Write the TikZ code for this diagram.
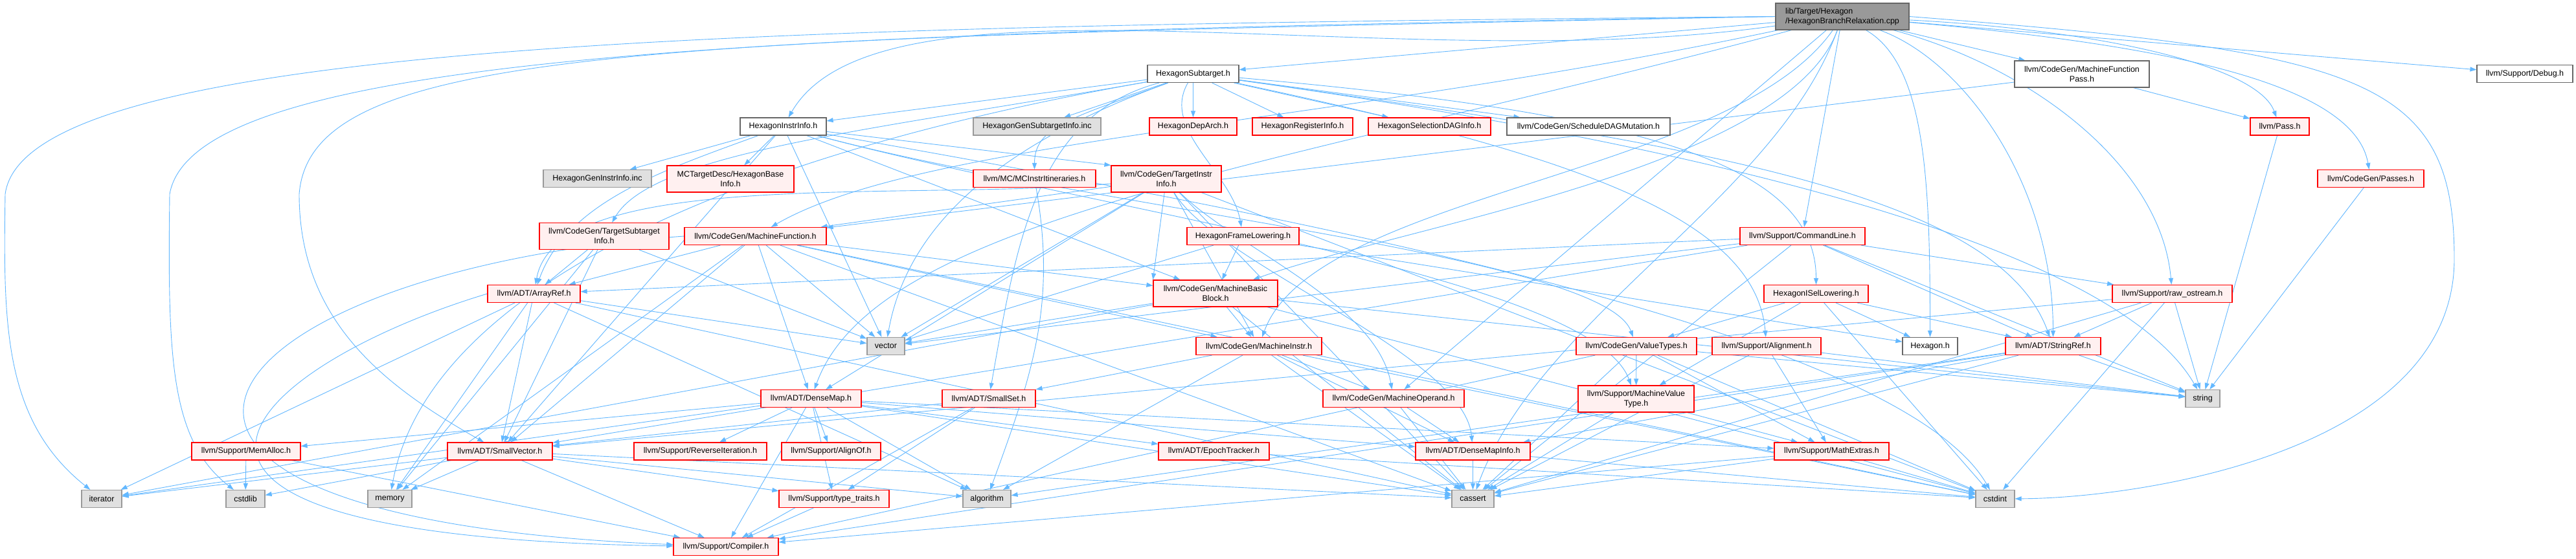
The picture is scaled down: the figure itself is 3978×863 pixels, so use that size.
\documentclass[tikz,border=0pt]{standalone}
\usepackage{fontspec}
\setmainfont{Liberation Sans}
\usepackage{tikz}
\usetikzlibrary{arrows.meta, positioning, backgrounds}
\definecolor{doxyedge}{HTML}{63B8FF}
\definecolor{doxyred}{HTML}{FF0000}
\definecolor{doxypink}{HTML}{FFF0F0}
\definecolor{doxygrey}{HTML}{E0E0E0}
\definecolor{doxymid}{HTML}{999999}
\definecolor{doxydark}{HTML}{666666}

\begin{document}
\begin{tikzpicture}[
        x=1pt, y=-1pt,
        doxbox/.style={draw, minimum height=27pt, inner xsep=4pt, inner ysep=2pt, align=center, font=\fontsize{12.5}{15}\selectfont, line width=1.2pt},
        redbox/.style={doxbox, draw=doxyred, fill=doxypink},
        plainbox/.style={doxbox, draw=doxydark, fill=white},
        sysbox/.style={doxbox, draw=doxymid, fill=doxygrey},
        rootbox/.style={doxbox, draw=doxydark, fill=doxymid, align=left},
        twoline/.style={minimum height=41pt},
        line/.style={-{Triangle[length=10pt, width=7pt]}, doxyedge, line width=0.9pt}
    ]
        \useasboundingbox (0,0) rectangle (3978,863);

        % top rows
        \node (main) [rootbox, twoline, minimum width=206pt] at (2845,25.5) {lib/Target/Hexagon\\/HexagonBranchRelaxation.cpp};
        \node (hsub) [plainbox, minimum width=141pt] at (1842.5,114) {HexagonSubtarget.h};
        \node (mfp) [plainbox, twoline, minimum width=208pt] at (3215,114.5) {llvm/CodeGen/MachineFunction\\Pass.h};
        \node (dbg) [plainbox, minimum width=148pt] at (3899,114) {llvm/Support/Debug.h};
        \node (hii) [plainbox, minimum width=133pt] at (1209.5,195.5) {HexagonInstrInfo.h};
        \node (hgsi) [sysbox, minimum width=197pt] at (1601.5,195.5) {HexagonGenSubtargetInfo.inc};
        \node (hda) [redbox, minimum width=135pt] at (1842.5,195.5) {HexagonDepArch.h};
        \node (hri) [redbox, minimum width=155pt] at (2011.5,195.5) {HexagonRegisterInfo.h};
        \node (hsdi) [redbox, minimum width=189pt] at (2207.5,195.5) {HexagonSelectionDAGInfo.h};
        \node (sdm) [plainbox, minimum width=252pt] at (2453,195.5) {llvm/CodeGen/ScheduleDAGMutation.h};
        \node (pass) [redbox, minimum width=91pt] at (3520.5,195.5) {llvm/Pass.h};
        \node (hgii) [sysbox, minimum width=167pt] at (922.5,276) {HexagonGenInstrInfo.inc};
        \node (hbi) [redbox, twoline, minimum width=196pt] at (1128,276.5) {MCTargetDesc/HexagonBase\\Info.h};
        \node (mcii) [redbox, minimum width=189pt] at (1597.5,276) {llvm/MC/MCInstrItineraries.h};
        \node (tii) [redbox, twoline, minimum width=170pt] at (1801,276.5) {llvm/CodeGen/TargetInstr\\Info.h};
        \node (passes) [redbox, minimum width=164pt] at (3661,276) {llvm/CodeGen/Passes.h};
        \node (tsi) [redbox, twoline, minimum width=200pt] at (933,365) {llvm/CodeGen/TargetSubtarget\\Info.h};
        \node (mf) [redbox, minimum width=219pt] at (1166.5,365) {llvm/CodeGen/MachineFunction.h};
        \node (hfl) [redbox, minimum width=173pt] at (1919.5,365) {HexagonFrameLowering.h};
        \node (cl) [redbox, minimum width=193pt] at (2783.5,365) {llvm/Support/CommandLine.h};

        % middle rows
        \node (ar) [redbox, minimum width=143pt] at (824.5,454) {llvm/ADT/ArrayRef.h};
        \node (mbb) [redbox, twoline, minimum width=192pt] at (1877,453.5) {llvm/CodeGen/MachineBasic\\Block.h};
        \node (hisl) [redbox, minimum width=161pt] at (2804.5,454) {HexagonISelLowering.h};
        \node (ros) [redbox, minimum width=185pt] at (3354.5,454) {llvm/Support/raw\_ostream.h};
        \node (vec) [sysbox, minimum width=58pt] at (1368,535) {vector};
        \node (mi) [redbox, minimum width=194pt] at (1944,535) {llvm/CodeGen/MachineInstr.h};
        \node (vt) [redbox, minimum width=186pt] at (2527,535) {llvm/CodeGen/ValueTypes.h};
        \node (al) [redbox, minimum width=168pt] at (2728,535) {llvm/Support/Alignment.h};
        \node (hex) [plainbox, minimum width=85pt] at (2980.5,535) {Hexagon.h};
        \node (sr) [redbox, minimum width=147pt] at (3170.5,535) {llvm/ADT/StringRef.h};
        \node (dm) [redbox, minimum width=155pt] at (1252.5,616) {llvm/ADT/DenseMap.h};
        \node (ss) [redbox, minimum width=144pt] at (1527,616) {llvm/ADT/SmallSet.h};
        \node (mo) [redbox, minimum width=218pt] at (2152,616) {llvm/CodeGen/MachineOperand.h};
        \node (mvt) [redbox, twoline, minimum width=179pt] at (2526.5,616.5) {llvm/Support/MachineValue\\Type.h};
        \node (str) [sysbox, minimum width=53pt] at (3401.5,616) {string};

        % bottom rows
        \node (ma) [redbox, minimum width=168pt] at (380,697.5) {llvm/Support/MemAlloc.h};
        \node (sv) [redbox, minimum width=162pt] at (772,697.5) {llvm/ADT/SmallVector.h};
        \node (ri) [redbox, minimum width=205pt] at (1081.5,697.5) {llvm/Support/ReverseIteration.h};
        \node (ao) [redbox, minimum width=153pt] at (1283.5,697.5) {llvm/Support/AlignOf.h};
        \node (et) [redbox, minimum width=171pt] at (1874.5,697.5) {llvm/ADT/EpochTracker.h};
        \node (dmi) [redbox, minimum width=177pt] at (2274.5,697.5) {llvm/ADT/DenseMapInfo.h};
        \node (me) [redbox, minimum width=177pt] at (2828.5,697.5) {llvm/Support/MathExtras.h};
        \node (it) [sysbox, minimum width=62pt] at (157,771) {iterator};
        \node (cstdlib) [sysbox, minimum width=60pt] at (379,771) {cstdlib};
        \node (memory) [sysbox, minimum width=68pt] at (602,771) {memory};
        \node (tt) [redbox, minimum width=170pt] at (1288,771) {llvm/Support/type\_traits.h};
        \node (alg) [sysbox, minimum width=74pt] at (1524,771) {algorithm};
        \node (cassert) [sysbox, minimum width=65pt] at (2274.5,771) {cassert};
        \node (cstdint) [sysbox, minimum width=60pt] at (3081,771) {cstdint};
        \node (comp) [redbox, minimum width=162pt] at (1121,845) {llvm/Support/Compiler.h};

        \begin{scope}[on background layer]
        \fill [white] (0,0) rectangle (3978,863);

        % includes of the .cpp file
        \draw [line] (main) -- (hsub);
        \draw [line] (main) .. controls +(188:700pt) and +(60:300pt) .. (hii);
        \draw [line] (main.west) .. controls (1200,40) and (40,60) .. (8,300) .. controls (5,500) and (5,650) .. (it);
        \draw [line] (main.west) .. controls (1200,50) and (300,80) .. (262,300) .. controls (259,550) and (262,680) .. (cstdlib);
        \draw [line] (main.west) .. controls (1000,60) and (480,70) .. (462,300) .. controls (462,500) and (600,600) .. (sv);
        \draw [line] (main) .. controls +(195:900pt) and +(70:300pt) .. (dm);
        \draw [line] (main) .. controls +(250:250pt) and +(20:300pt) .. (mbb);
        \draw [line] (main) .. controls +(192:800pt) and +(30:300pt) .. (mf);
        \draw [line] (main) -- (mfp);
        \draw [line] (main) .. controls +(235:300pt) and +(70:250pt) .. (mi);
        \draw [line] (main) -- (mo);
        \draw [line] (main) .. controls +(-5:500pt) and +(100:150pt) .. (passes);
        \draw [line] (main) .. controls +(-3:400pt) and +(110:100pt) .. (pass);
        \draw [line] (main) -- (cl);
        \draw [line] (main) -- (dbg);
        \draw [line] (main) .. controls +(-15:300pt) and +(95:200pt) .. (ros);
        \draw [line] (main) .. controls +(-20:200pt) and +(90:250pt) .. (sr);
        \draw [line] (main) .. controls +(-30:150pt) and +(90:250pt) .. (hex);
        \draw [line] (main) .. controls +(250:300pt) and +(70:300pt) .. (cassert);
        \draw [line] (main.east) .. controls (3650,80) and (3790,120) .. (3790,400) .. controls (3790,700) and (3300,770) .. (cstdint);

        % HexagonSubtarget.h
        \draw [line] (hsub) -- (hda);
        \draw [line] (hsub) -- (hgsi);
        \draw [line] (hsub) -- (hri);
        \draw [line] (hsub) -- (hsdi);
        \draw [line] (hsub) -- (sdm);
        \draw [line] (hsub) -- (hii);
        \draw [line] (hsub) .. controls +(240:100pt) and +(100:100pt) .. (hfl);
        \draw [line] (hsub) .. controls +(-5:700pt) and +(90:200pt) .. (hisl);
        \draw [line] (hsub) .. controls +(195:250pt) and +(80:250pt) .. (ss);
        \draw [line] (hsub) .. controls +(-8:800pt) and +(110:250pt) .. (sr);
        \draw [line] (hsub) .. controls +(190:500pt) and +(60:150pt) .. (tsi);
        \draw [line] (hsub) .. controls +(200:200pt) and +(90:80pt) .. (mcii);
        \draw [line] (hsub) .. controls +(-12:600pt) and +(95:200pt) .. (al);
        \draw [line] (hsub) .. controls +(190:800pt) and +(80:300pt) .. (memory);
        \draw [line] (hsub) .. controls +(-8:900pt) and +(120:250pt) .. (str);
        \draw [line] (hsub) .. controls +(200:300pt) and +(80:200pt) .. (vec);

        % HexagonInstrInfo.h
        \draw [line] (hii) -- (hbi);
        \draw [line] (hii) -- (hgii);
        \draw [line] (hii) .. controls +(200:200pt) and +(70:150pt) .. (ar);
        \draw [line] (hii) -- (sv);
        \draw [line] (hii) -- (mbb);
        \draw [line] (hii) .. controls +(-15:500pt) and +(110:200pt) .. (mvt);
        \draw [line] (hii) -- (tii.north west);
        \draw [line] (hii) .. controls +(-15:500pt) and +(110:150pt) .. (vt);
        \draw [line] (hii) .. controls +(-10:800pt) and +(120:300pt) .. (cstdint);
        \draw [line] (hii) -- (vec);

        % other Hexagon headers
        \draw [line] (mfp) -- (mf);
        \draw [line] (mfp) -- (pass);
        \draw [line] (pass) -- (str);
        \draw [line] (passes) -- (str);
        \draw [line] (hfl) -- (hex);
        \draw [line] (hfl) -- (mbb);
        \draw [line] (hfl) -- (vec);
        \draw [line] (hisl) -- (hex);
        \draw [line] (hisl) -- (sr);
        \draw [line] (hisl) -- (vt);
        \draw [line] (hisl) -- (mvt);
        \draw [line] (hisl) -- (cstdint);
        \draw [line] (tsi) -- (ar);
        \draw [line] (tsi) -- (sv);
        \draw [line] (tsi) -- (memory);
        \draw [line] (tsi) -- (vec);
        \draw [line] (mcii) .. controls +(-80:200pt) and +(70:200pt) .. (alg);

        % CodeGen headers
        \draw [line] (tii) .. controls +(185:400pt) and +(80:200pt) .. (ar);
        \draw [line] (tii) -- (dm);
        \draw [line] (tii) .. controls +(-60:150pt) and +(95:150pt) .. (dmi);
        \draw [line] (tii) -- (mbb.north west);
        \draw [line] (tii) -- (mf);
        \draw [line] (tii) -- (mi);
        \draw [line] (tii) .. controls +(-45:150pt) and +(100:150pt) .. (mo);
        \draw [line] (tii) -- (cassert);
        \draw [line] (tii) -- (cstdint);
        \draw [line] (tii) -- (vec);
        \draw [line] (mf) -- (ar);
        \draw [line] (mf) -- (dm);
        \draw [line] (mf) -- (sv);
        \draw [line] (mf) -- (mbb);
        \draw [line] (mf) -- (mi);
        \draw [line] (mf.west) .. controls (300,420) and (20,800) .. (comp);
        \draw [line] (mf) -- (cassert);
        \draw [line] (mf) -- (cstdint);
        \draw [line] (mf) -- (memory);
        \draw [line] (mf) -- (vec);
        \draw [line] (mbb) -- (mi);
        \draw [line] (mbb) -- (cassert);
        \draw [line] (mbb) -- (cstdint);
        \draw [line] (mbb) -- (it);
        \draw [line] (mbb) -- (str);
        \draw [line] (mbb) -- (vec);
        \draw [line] (mi) -- (dmi);
        \draw [line] (mi) -- (ss);
        \draw [line] (mi) -- (mo);
        \draw [line] (mi) -- (alg);
        \draw [line] (mi) -- (cassert);
        \draw [line] (mi) -- (cstdint);
        \draw [line] (mo) -- (dmi);
        \draw [line] (mo) -- (cassert);
        \draw [line] (vt) -- (mvt);
        \draw [line] (vt) -- (me);
        \draw [line] (vt) -- (comp);
        \draw [line] (vt) -- (cassert);
        \draw [line] (vt) -- (cstdint);
        \draw [line] (vt) -- (str);

        % Support headers
        \draw [line] (cl) -- (ar);
        \draw [line] (cl) -- (sv);
        \draw [line] (cl) -- (sr);
        \draw [line] (cl) -- (ros);
        \draw [line] (cl) -- (cassert);
        \draw [line] (cl) -- (str);
        \draw [line] (cl) -- (vec);
        \draw [line] (ros) -- (sv);
        \draw [line] (ros) -- (sr);
        \draw [line] (ros) -- (cassert);
        \draw [line] (ros) -- (cstdint);
        \draw [line] (ros) -- (str);
        \draw [line] (al) -- (me);
        \draw [line] (al) -- (cassert);
        \draw [line] (al) -- (str);
        \draw [line] (mvt) -- (me);
        \draw [line] (mvt) -- (cassert);
        \draw [line] (me) -- (comp);
        \draw [line] (me) -- (cassert);
        \draw [line] (me) -- (cstdint);
        \draw [line] (ma) -- (comp);
        \draw [line] (ma) -- (cstdlib);
        \draw [line] (tt) -- (comp);

        % ADT headers
        \draw [line] (ar.west) .. controls (400,560) and (60,830) .. (comp);
        \draw [line] (ar) -- (sv);
        \draw [line] (ar) -- (alg);
        \draw [line] (ar) -- (cassert);
        \draw [line] (ar) -- (it);
        \draw [line] (ar) -- (memory);
        \draw [line] (ar) -- (vec);
        \draw [line] (sr) -- (dmi);
        \draw [line] (sr) -- (comp);
        \draw [line] (sr) -- (alg);
        \draw [line] (sr) -- (cassert);
        \draw [line] (sr) -- (str);
        \draw [line] (dm) -- (dmi);
        \draw [line] (dm) -- (et);
        \draw [line] (dm) -- (ao);
        \draw [line] (dm) -- (comp);
        \draw [line] (dm) -- (me);
        \draw [line] (dm) -- (ma);
        \draw [line] (dm) -- (ri);
        \draw [line] (dm) -- (tt);
        \draw [line] (dm) -- (alg);
        \draw [line] (dm) -- (cassert);
        \draw [line] (dm) -- (it);
        \draw [line] (ss) -- (sv);
        \draw [line] (ss) -- (comp);
        \draw [line] (ss) -- (tt);
        \draw [line] (sv) -- (comp);
        \draw [line] (sv) -- (tt);
        \draw [line] (sv) -- (alg);
        \draw [line] (sv) -- (cassert);
        \draw [line] (sv) -- (cstdlib);
        \draw [line] (sv) -- (it);
        \draw [line] (sv) -- (memory);
        \draw [line] (dmi) -- (cassert);
        \draw [line] (dmi) -- (cstdint);
        \draw [line] (et) -- (cstdint);
        \end{scope}
    \end{tikzpicture}
\end{document}
